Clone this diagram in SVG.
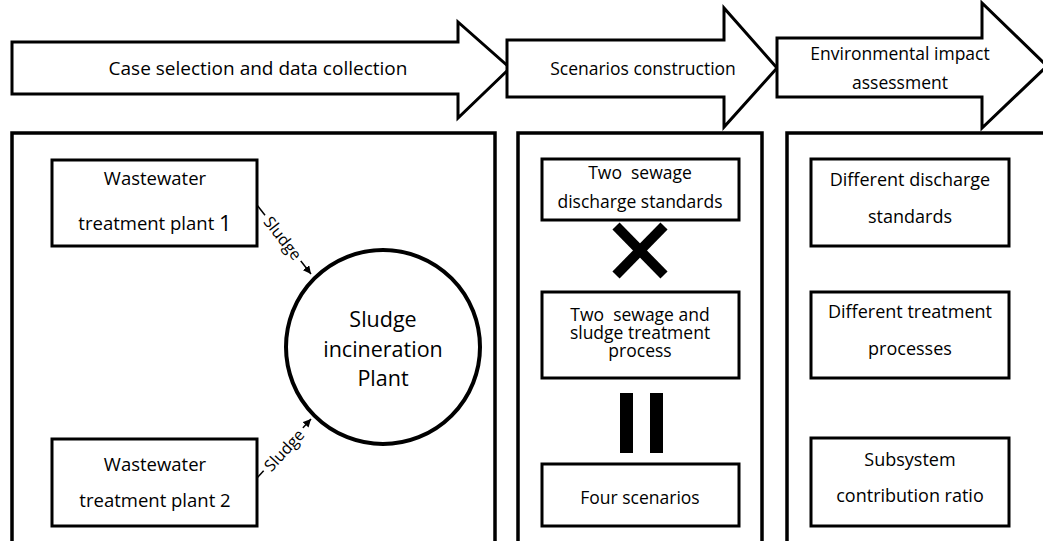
<svg xmlns="http://www.w3.org/2000/svg" width="1043" height="541" viewBox="0 0 1043 541">
<defs>
<style>
.arrow{fill:#fff;stroke:#000;stroke-width:3;stroke-linejoin:miter}
.panel{fill:#fff;stroke:#000;stroke-width:3.5}
.box{fill:#fff;stroke:#000;stroke-width:3}
.t{font-family:"Open Sans","Liberation Sans",Arial,sans-serif;font-size:17.5px;fill:#000;text-anchor:middle;dominant-baseline:central;white-space:pre}
.a{font-size:17.5px}
.a1{font-size:19px}
.w{font-size:18.5px}
.r{font-size:18px}
.big{font-size:21.5px}
.lbl{font-family:"Open Sans","Liberation Sans",Arial,sans-serif;font-size:16px;fill:#000;text-anchor:middle;dominant-baseline:central}
.conn{stroke:#000;stroke-width:1.5;fill:none}
</style>
<marker id="ah" viewBox="0 0 10 10" refX="10" refY="5" markerWidth="8" markerHeight="8" orient="auto" markerUnits="userSpaceOnUse">
<path d="M0,0 L10,5 L0,10 z" fill="#000"/>
</marker>
</defs>
<rect width="1043" height="541" fill="#fff"/>

<g id="arrow1">
<polygon class="arrow" points="12,42 458,42 458,22 510,68 458,118 458,94 12,94"/>
<text class="t a1" x="258" y="68">Case selection and data collection</text>
</g>
<g id="arrow2">
<polygon class="arrow" points="507,40 724,40 724,8 777,68 724,127 724,97 507,97"/>
<text class="t a" x="643" y="68">Scenarios construction</text>
</g>
<g id="arrow3">
<polygon class="arrow" points="777,38 982,38 982,3 1047,66 982,128 982,97 777,97"/>
<text class="t a" x="900" y="53">Environmental impact</text>
<text class="t a" x="900" y="82">assessment</text>
</g>

<g id="panel1"><rect class="panel" x="12" y="133" width="483" height="420"/></g>
<g id="panel2"><rect class="panel" x="518" y="133" width="244" height="420"/></g>
<g id="panel3"><rect class="panel" x="787" y="133" width="270" height="420"/></g>

<g id="connectors">
<line class="conn" x1="257" y1="205" x2="311" y2="274" marker-end="url(#ah)"/>
<line class="conn" x1="257" y1="478" x2="311" y2="419" marker-end="url(#ah)"/>
<g transform="translate(283,238) rotate(52)">
<rect x="-29" y="-8" width="58" height="16" fill="#fff"/>
<text class="lbl" x="0" y="0">Sludge</text>
</g>
<g transform="translate(284,450) rotate(-47)">
<rect x="-29" y="-8" width="58" height="16" fill="#fff"/>
<text class="lbl" x="0" y="0">Sludge</text>
</g>
</g>

<g id="wwtp1">
<rect class="box" x="52" y="160" width="205" height="86"/>
<text class="t w" x="155" y="177">Wastewater</text>
<text class="t w" x="155" y="222">treatment plant <tspan font-size="22px">1</tspan></text>
</g>
<g id="wwtp2">
<rect class="box" x="52" y="439" width="205" height="87"/>
<text class="t w" x="155" y="463">Wastewater</text>
<text class="t w" x="155" y="499">treatment plant 2</text>
</g>
<g id="incineration">
<circle cx="383" cy="347" r="97" fill="#fff" stroke="#000" stroke-width="4"/>
<text class="t big" x="383" y="318">Sludge</text>
<text class="t big" x="383" y="348">incineration</text>
<text class="t big" x="383" y="377">Plant</text>
</g>

<g id="standards">
<rect class="box" x="542" y="159" width="197" height="61"/>
<text class="t" x="640" y="172">Two  sewage</text>
<text class="t" x="640" y="201">discharge standards</text>
</g>
<g id="times">
<line x1="616" y1="226" x2="664" y2="275" stroke="#000" stroke-width="10"/>
<line x1="664" y1="226" x2="616" y2="275" stroke="#000" stroke-width="10"/>
</g>
<g id="process">
<rect class="box" x="542" y="292" width="197" height="86"/>
<text class="t" x="640" y="314">Two  sewage and</text>
<text class="t" x="640" y="332">sludge treatment</text>
<text class="t" x="640" y="350">process</text>
</g>
<g id="equals">
<rect x="620" y="393" width="13" height="60" fill="#000"/>
<rect x="650" y="393" width="13" height="60" fill="#000"/>
</g>
<g id="scenarios">
<rect class="box" x="542" y="464" width="197" height="62"/>
<text class="t" x="640" y="497">Four scenarios</text>
</g>

<g id="diffstandards">
<rect class="box" x="811" y="159" width="198" height="87"/>
<text class="t r" x="910" y="179">Different discharge</text>
<text class="t r" x="910" y="216">standards</text>
</g>
<g id="diffprocesses">
<rect class="box" x="811" y="292" width="198" height="86"/>
<text class="t r" x="910" y="311">Different treatment</text>
<text class="t r" x="910" y="348">processes</text>
</g>
<g id="subsystem">
<rect class="box" x="811" y="438" width="198" height="88"/>
<text class="t r" x="910" y="459">Subsystem</text>
<text class="t r" x="910" y="495">contribution ratio</text>
</g>
</svg>
